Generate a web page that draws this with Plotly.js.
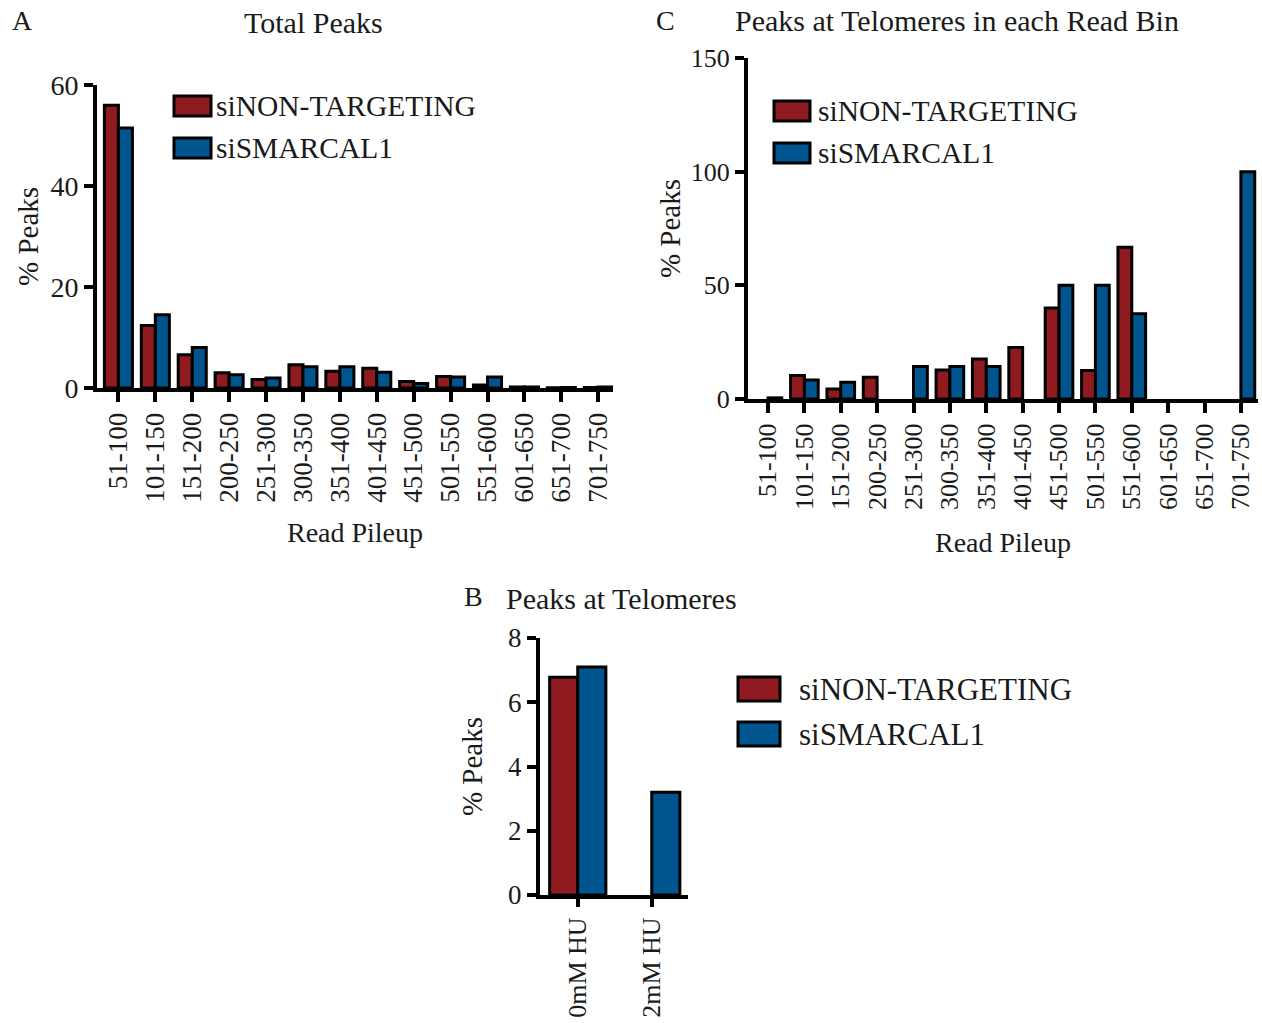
<!DOCTYPE html>
<html>
<head>
<meta charset="utf-8">
<script src="https://cdn.plot.ly/plotly-3.0.1.min.js"></script>
<style>html,body{margin:0;padding:0;background:#fff}#chart{width:1262px;height:1023px}</style>
</head>
<body>
<div id="chart"></div>
<script>
const seriesNames = ['siNON-TARGETING', 'siSMARCAL1'];
const binCategories = ['51-100','101-150','151-200','200-250','251-300','300-350','351-400','401-450','451-500','501-550','551-600','601-650','651-700','701-750'];
const totalPeaksNT = [56.0, 12.4, 6.6, 3.0, 1.7, 4.6, 3.3, 3.9, 1.3, 2.3, 0.6, 0.2, 0.05, 0.1];
const totalPeaksSM = [51.5, 14.5, 8.0, 2.6, 2.0, 4.2, 4.2, 3.1, 0.9, 2.2, 2.2, 0.2, 0.1, 0.2];
const teloBinNT = [0, 10.3, 4.4, 9.6, 0, 12.8, 17.6, 22.6, 40.0, 12.5, 66.7, 0, 0, 0];
const teloBinSM = [0.5, 8.4, 7.4, 0, 14.3, 14.3, 14.3, 0, 50.0, 50.0, 37.5, 0, 0, 100.0];
const huCategories = ['0mM HU', '2mM HU'];
const teloNT = [6.78, 0];
const teloSM = [7.1, 3.2];
const yTicksA = [0, 20, 40, 60];
const yTicksC = [0, 50, 100, 150];
const yTicksB = [0, 2, 4, 6, 8];

const W = 1262, H = 1023;
const px = x => x / W;
const py = y => 1 - y / H;
const RED = '#8f1b20', BLUE = '#00558f';
const FONT = 'Liberation Serif, Times New Roman, serif';
const TXT = '#1a1a1a';

function bar(x, y, name, color, xa, ya) {
  return {type: 'bar', x: x, y: y, name: name, xaxis: xa, yaxis: ya, showlegend: false,
    marker: {color: color, line: {color: '#000', width: y.map(v => v > 0 ? 3 : 0)}}, hoverinfo: 'x+y'};
}
const data = [
  bar(binCategories, totalPeaksNT, seriesNames[0], RED, 'x', 'y'),
  bar(binCategories, totalPeaksSM, seriesNames[1], BLUE, 'x', 'y'),
  bar(binCategories, teloBinNT, seriesNames[0], RED, 'x2', 'y2'),
  bar(binCategories, teloBinSM, seriesNames[1], BLUE, 'x2', 'y2'),
  bar(huCategories, teloNT, seriesNames[0], RED, 'x3', 'y3'),
  bar(huCategories, teloSM, seriesNames[1], BLUE, 'x3', 'y3')
];

function xaxis(domain, anchor, range, fs, titleText, standoff, ticklen) {
  const a = {domain: domain, anchor: anchor, type: 'category', range: range,
    showline: true, linewidth: 4, linecolor: '#000', ticks: 'outside', ticklen: ticklen || 10, tickwidth: 4, tickcolor: '#000',
    tickangle: -90, tickfont: {family: FONT, size: fs, color: TXT}, showgrid: false, zeroline: false, fixedrange: true};
  if (titleText) a.title = {text: titleText, font: {family: FONT, size: 28, color: TXT}, standoff: standoff};
  return a;
}
function yaxis(domain, anchor, range, tickvals, fs, standoff) {
  return {domain: domain, anchor: anchor, range: range, tickvals: tickvals, ticktext: tickvals.map(String),
    showline: true, linewidth: 4, linecolor: '#000', ticks: 'outside', ticklen: 9, tickwidth: 4, tickcolor: '#000',
    tickfont: {family: FONT, size: fs, color: TXT}, showgrid: false, zeroline: false, fixedrange: true,
    title: {text: '% Peaks', font: {family: FONT, size: 29, color: TXT}, standoff: standoff}};
}

const annotations = [];
const shapes = [];
function label(text, x, y, size, xanchor) {
  annotations.push({text: text, x: px(x), y: py(y), xref: 'paper', yref: 'paper', showarrow: false,
    xanchor: xanchor || 'center', yanchor: 'middle', font: {family: FONT, size: size, color: TXT}});
}
label('A', 22, 21, 28);
label('Total Peaks', 313, 23, 30);
label('C', 665, 21, 28);
label('Peaks at Telomeres in each Read Bin', 957, 21, 30);
label('B', 473, 596, 28);
label('Peaks at Telomeres', 621, 598, 30);

function legend(x0, y0, w, h, gap, tx, fs) {
  [RED, BLUE].forEach((c, i) => {
    const yc = y0 + i * gap;
    shapes.push({type: 'rect', xref: 'paper', yref: 'paper', x0: px(x0), x1: px(x0 + w), y0: py(yc - h / 2), y1: py(yc + h / 2),
      fillcolor: c, line: {color: '#000', width: 3}});
    label(seriesNames[i], tx, yc, fs, 'left');
  });
}
legend(174, 106, 37, 20, 42, 214, 29.5);
legend(774, 111, 36, 20, 42, 816, 29.5);
legend(738, 689, 42, 24, 45, 797, 31);

const layout = {
  width: W, height: H, margin: {l: 0, r: 0, t: 0, b: 0}, paper_bgcolor: '#fff', plot_bgcolor: '#fff',
  barmode: 'group', bargap: 0.24, bargroupgap: 0,
  showlegend: false,
  xaxis: xaxis([px(97), px(613)], 'y', [-0.58, 13.4], 27, 'Read Pileup', 22),
  yaxis: yaxis([py(388), py(85)], 'x', [0, 60], yTicksA, 28, 4),
  xaxis2: xaxis([px(748), px(1258)], 'y2', [-0.55, 13.47], 26, 'Read Pileup', 24),
  yaxis2: yaxis([py(399), py(58)], 'x2', [0, 150], yTicksC, 26, 3),
  xaxis3: xaxis([px(540), px(688)], 'y3', [-0.51, 1.49], 26, null, 0, 8),
  yaxis3: yaxis([py(895), py(638)], 'x3', [0, 8], yTicksB, 27, 18),
  annotations: annotations, shapes: shapes
};
Plotly.newPlot('chart', data, layout, {staticPlot: true, displayModeBar: false});
</script>
</body>
</html>
